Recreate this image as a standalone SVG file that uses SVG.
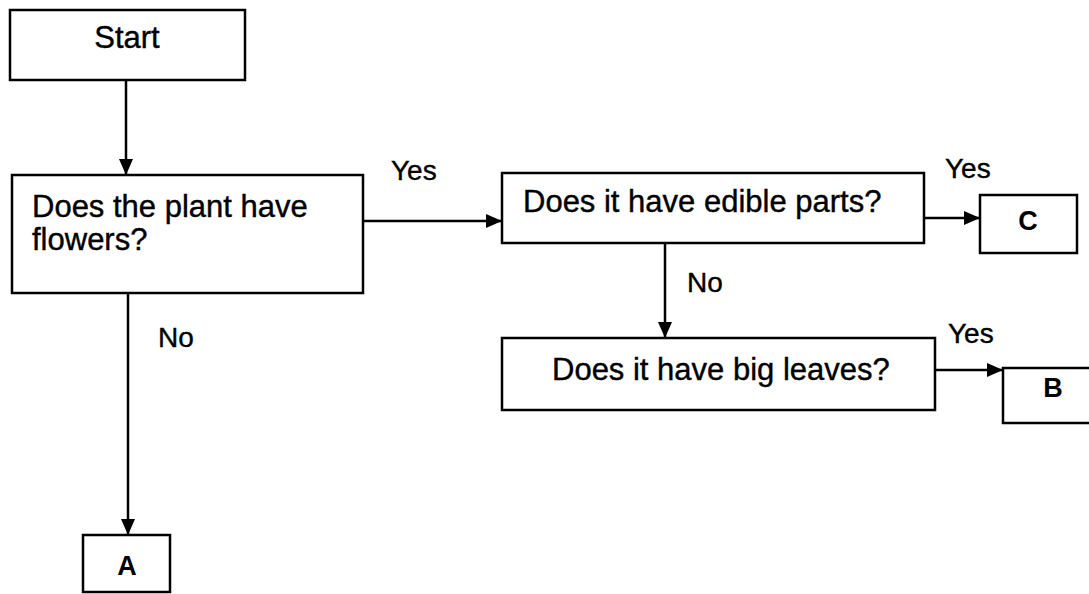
<svg xmlns="http://www.w3.org/2000/svg" width="1089" height="594" viewBox="0 0 1089 594">
<style>
.box{fill:#fff;stroke:#000;stroke-width:2.5}
.t{font-family:"Liberation Sans",Arial,sans-serif;font-size:31px;fill:#000;stroke:#000;stroke-width:0.4}
.lbl{font-family:"Liberation Sans",Arial,sans-serif;font-size:28px;fill:#000;stroke:#000;stroke-width:0.4}
.bt{font-family:"Liberation Sans",Arial,sans-serif;font-size:27px;font-weight:bold;fill:#000;text-anchor:middle}
.c{stroke:#000;stroke-width:2.5;fill:none;marker-end:url(#ah)}
</style>
<defs>
<marker id="ah" markerUnits="userSpaceOnUse" markerWidth="18" markerHeight="16" refX="16" refY="7" orient="auto">
<path d="M0,0 L16,7 L0,14 z" fill="#000"/>
</marker>
</defs>
<rect width="1089" height="594" fill="#fff"/>
<g id="connectors">
<line class="c" x1="126" y1="80" x2="126" y2="175"/>
<line class="c" x1="363" y1="221" x2="502" y2="221"/>
<line class="c" x1="925" y1="218" x2="980" y2="218"/>
<line class="c" x1="665" y1="243" x2="665" y2="338"/>
<line class="c" x1="935" y1="370" x2="1003" y2="370"/>
<line class="c" x1="128" y1="293" x2="128" y2="535"/>
<text class="lbl" x="391" y="180">Yes</text>
<text class="lbl" x="945" y="178">Yes</text>
<text class="lbl" x="687" y="292">No</text>
<text class="lbl" x="948" y="343">Yes</text>
<text class="lbl" x="158" y="347">No</text>
</g>
<g id="start">
<rect class="box" x="10" y="10" width="235" height="70"/>
<text class="t" x="127" y="48" text-anchor="middle">Start</text>
</g>
<g id="q-flowers">
<rect class="box" x="12" y="175" width="351" height="118"/>
<text class="t" x="32" y="217">Does the plant have</text>
<text class="t" x="32" y="250">flowers?</text>
</g>
<g id="q-edible">
<rect class="box" x="502" y="173" width="422" height="70"/>
<text class="t" x="523" y="212">Does it have edible parts?</text>
</g>
<g id="q-leaves">
<rect class="box" x="502" y="338" width="433" height="72"/>
<text class="t" x="552" y="380">Does it have big leaves?</text>
</g>
<g id="c">
<rect class="box" x="980" y="195" width="97" height="58"/>
<text class="bt" x="1028" y="230">C</text>
</g>
<g id="b">
<rect class="box" x="1003" y="368" width="100" height="55"/>
<text class="bt" x="1053" y="397">B</text>
</g>
<g id="a">
<rect class="box" x="83" y="535" width="87" height="57"/>
<text class="bt" x="127" y="575">A</text>
</g>
</svg>
